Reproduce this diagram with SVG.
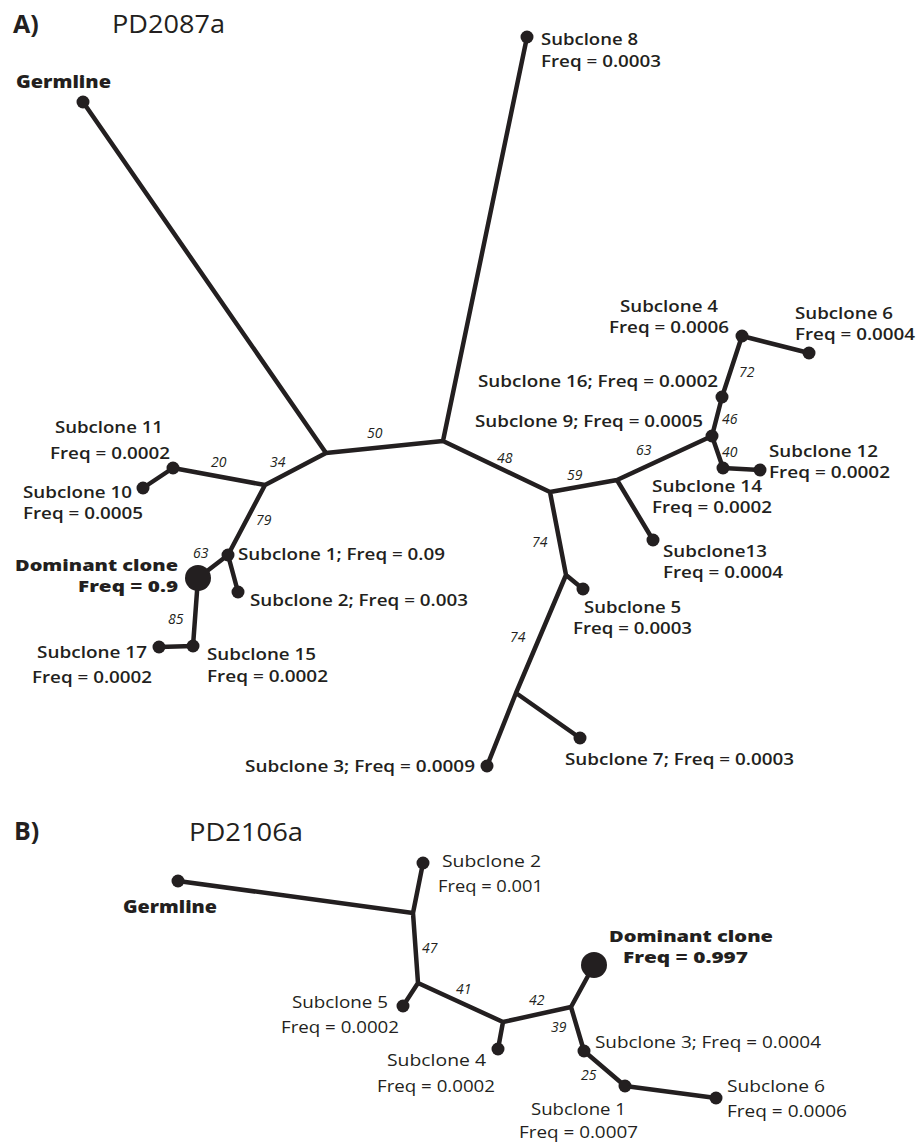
<svg xmlns="http://www.w3.org/2000/svg" width="921" height="1147" viewBox="0 0 921 1147">
<style>
.e{stroke:#231f20;stroke-width:4.5;stroke-linecap:round;stroke-linejoin:round;fill:none}
.n{fill:#231f20}
.t{font-family:"Open Sans","Liberation Sans",sans-serif;font-size:17px;font-weight:600;fill:#231f20}
.r{font-family:"Open Sans","Liberation Sans",sans-serif;font-size:17px;font-weight:400;fill:#231f20}
.b{font-family:"Open Sans","Liberation Sans",sans-serif;font-size:18px;font-weight:800;fill:#231f20}
.d{font-family:"Open Sans","Liberation Sans",sans-serif;font-size:16.5px;font-weight:800;fill:#231f20}
.h{font-family:"Open Sans","Liberation Sans",sans-serif;font-size:25px;font-weight:700;fill:#231f20}
.p{font-family:"Open Sans","Liberation Sans",sans-serif;font-size:25px;font-weight:400;fill:#231f20}
.l{font-family:"Open Sans","Liberation Sans",sans-serif;font-size:14px;font-style:italic;fill:#231f20}
</style>
<rect width="921" height="1147" fill="#fff"/>
<g id="connectors">
<path class="e" d="M83,102 L326,453 L443,441 L527,37 M443,441 L550,492 M326,453 L265,485 L173,468 L143,488 M265,485 L228,555 L198,578 L193,646 L159,647 M228,555 L238,592 M550,492 L617,480 L712,436 L722,397 L742,336 L809,353 M712,436 L723,468 L760,470 M617,480 L653,540 M550,492 L566,575 L583,589 M566,575 L516,693 L487,766 M516,693 L580,738"/>
<path class="e" d="M178,881 L413,913 L423,863 M413,913 L418,983 L403,1006 M418,983 L503,1022 L498,1049 M503,1022 L571,1007 L594,965 M571,1007 L584,1051 L625,1086 L716,1098"/>
</g>
<g id="edge-labels">
<text class="l" x="367" y="438">50</text>
<text class="l" x="270" y="467">34</text>
<text class="l" x="211" y="467">20</text>
<text class="l" x="256" y="525">79</text>
<text class="l" x="193" y="558">63</text>
<text class="l" x="168" y="624">85</text>
<text class="l" x="497" y="463">48</text>
<text class="l" x="567" y="480">59</text>
<text class="l" x="636" y="455">63</text>
<text class="l" x="722" y="457">40</text>
<text class="l" x="722" y="424">46</text>
<text class="l" x="739" y="377">72</text>
<text class="l" x="532" y="547">74</text>
<text class="l" x="510" y="642">74</text>
<text class="l" x="422" y="953">47</text>
<text class="l" x="456" y="994">41</text>
<text class="l" x="529" y="1005">42</text>
<text class="l" x="551" y="1032">39</text>
<text class="l" x="581" y="1080">25</text>
</g>
<g id="titles">
<text class="h" x="13" y="33">A)</text>
<text class="p" x="112" y="33" textLength="113" lengthAdjust="spacingAndGlyphs">PD2087a</text>
<text class="h" x="14" y="840">B)</text>
<text class="p" x="189" y="841" textLength="114" lengthAdjust="spacingAndGlyphs">PD2106a</text>
</g>
<g id="A-germline"><circle class="n" cx="83" cy="102" r="6.5"/><text class="b" x="16" y="88" textLength="95" lengthAdjust="spacingAndGlyphs">Germline</text></g>
<g id="A-subclone8"><circle class="n" cx="527" cy="37" r="6.5"/><text class="t" x="541" y="45" textLength="97" lengthAdjust="spacingAndGlyphs">Subclone 8</text><text class="t" x="541" y="67" textLength="120" lengthAdjust="spacingAndGlyphs">Freq = 0.0003</text></g>
<g id="A-subclone11"><circle class="n" cx="173" cy="468" r="6.5"/><text class="t" x="55" y="433" textLength="108" lengthAdjust="spacingAndGlyphs">Subclone 11</text><text class="t" x="50" y="459" textLength="120" lengthAdjust="spacingAndGlyphs">Freq = 0.0002</text></g>
<g id="A-subclone10"><circle class="n" cx="143" cy="488" r="6.5"/><text class="t" x="23" y="498" textLength="109" lengthAdjust="spacingAndGlyphs">Subclone 10</text><text class="t" x="23" y="519" textLength="120" lengthAdjust="spacingAndGlyphs">Freq = 0.0005</text></g>
<g id="A-subclone1"><circle class="n" cx="228" cy="555" r="6.5"/><text class="t" x="238" y="560" textLength="207" lengthAdjust="spacingAndGlyphs">Subclone 1; Freq = 0.09</text></g>
<g id="A-dominant"><circle class="n" cx="198" cy="578" r="13"/><text class="d" x="178" y="571" text-anchor="end" textLength="163" lengthAdjust="spacingAndGlyphs">Dominant clone</text><text class="d" x="178" y="592" text-anchor="end" textLength="100" lengthAdjust="spacingAndGlyphs">Freq = 0.9</text></g>
<g id="A-subclone2"><circle class="n" cx="238" cy="592" r="6.5"/><text class="t" x="250" y="606" textLength="218" lengthAdjust="spacingAndGlyphs">Subclone 2; Freq = 0.003</text></g>
<g id="A-subclone15"><circle class="n" cx="193" cy="646" r="6.5"/><text class="t" x="207" y="660" textLength="109" lengthAdjust="spacingAndGlyphs">Subclone 15</text><text class="t" x="207" y="682" textLength="121" lengthAdjust="spacingAndGlyphs">Freq = 0.0002</text></g>
<g id="A-subclone17"><circle class="n" cx="159" cy="647" r="6.5"/><text class="t" x="37" y="658" textLength="110" lengthAdjust="spacingAndGlyphs">Subclone 17</text><text class="t" x="32" y="683" textLength="120" lengthAdjust="spacingAndGlyphs">Freq = 0.0002</text></g>
<g id="A-subclone4"><circle class="n" cx="742" cy="336" r="6.5"/><text class="t" x="620" y="312" textLength="98" lengthAdjust="spacingAndGlyphs">Subclone 4</text><text class="t" x="609" y="333" textLength="120" lengthAdjust="spacingAndGlyphs">Freq = 0.0006</text></g>
<g id="A-subclone6"><circle class="n" cx="809" cy="353" r="6.5"/><text class="t" x="795" y="319" textLength="98" lengthAdjust="spacingAndGlyphs">Subclone 6</text><text class="t" x="795" y="340" textLength="120" lengthAdjust="spacingAndGlyphs">Freq = 0.0004</text></g>
<g id="A-subclone16"><circle class="n" cx="722" cy="397" r="6.5"/><text class="t" x="478" y="387" textLength="240" lengthAdjust="spacingAndGlyphs">Subclone 16; Freq = 0.0002</text></g>
<g id="A-subclone9"><circle class="n" cx="712" cy="436" r="6.5"/><text class="t" x="475" y="427" textLength="228" lengthAdjust="spacingAndGlyphs">Subclone 9; Freq = 0.0005</text></g>
<g id="A-subclone12"><circle class="n" cx="760" cy="470" r="6.5"/><text class="t" x="769" y="457" textLength="109" lengthAdjust="spacingAndGlyphs">Subclone 12</text><text class="t" x="769" y="478" textLength="121" lengthAdjust="spacingAndGlyphs">Freq = 0.0002</text></g>
<g id="A-subclone14"><circle class="n" cx="723" cy="468" r="6.5"/><text class="t" x="652" y="492" textLength="110" lengthAdjust="spacingAndGlyphs">Subclone 14</text><text class="t" x="652" y="513" textLength="120" lengthAdjust="spacingAndGlyphs">Freq = 0.0002</text></g>
<g id="A-subclone13"><circle class="n" cx="653" cy="540" r="6.5"/><text class="t" x="663" y="557" textLength="104" lengthAdjust="spacingAndGlyphs">Subclone13</text><text class="t" x="663" y="578" textLength="120" lengthAdjust="spacingAndGlyphs">Freq = 0.0004</text></g>
<g id="A-subclone5"><circle class="n" cx="583" cy="589" r="6.5"/><text class="t" x="584" y="613" textLength="97" lengthAdjust="spacingAndGlyphs">Subclone 5</text><text class="t" x="573" y="634" textLength="119" lengthAdjust="spacingAndGlyphs">Freq = 0.0003</text></g>
<g id="A-subclone7"><circle class="n" cx="580" cy="738" r="6.5"/><text class="t" x="565" y="765" textLength="229" lengthAdjust="spacingAndGlyphs">Subclone 7; Freq = 0.0003</text></g>
<g id="A-subclone3"><circle class="n" cx="487" cy="766" r="6.5"/><text class="t" x="245" y="772" textLength="230" lengthAdjust="spacingAndGlyphs">Subclone 3; Freq = 0.0009</text></g>
<g id="B-germline"><circle class="n" cx="178" cy="881" r="6.5"/><text class="b" x="123" y="913" textLength="94" lengthAdjust="spacingAndGlyphs">Germline</text></g>
<g id="B-subclone2"><circle class="n" cx="423" cy="863" r="6.5"/><text class="r" x="442" y="867" textLength="99" lengthAdjust="spacingAndGlyphs">Subclone 2</text><text class="r" x="438" y="892" textLength="105" lengthAdjust="spacingAndGlyphs">Freq = 0.001</text></g>
<g id="B-subclone5"><circle class="n" cx="403" cy="1006" r="6.5"/><text class="r" x="292" y="1008" textLength="96" lengthAdjust="spacingAndGlyphs">Subclone 5</text><text class="r" x="281" y="1033" textLength="118" lengthAdjust="spacingAndGlyphs">Freq = 0.0002</text></g>
<g id="B-subclone4"><circle class="n" cx="498" cy="1049" r="6.5"/><text class="r" x="387" y="1066" textLength="99" lengthAdjust="spacingAndGlyphs">Subclone 4</text><text class="r" x="377" y="1092" textLength="118" lengthAdjust="spacingAndGlyphs">Freq = 0.0002</text></g>
<g id="B-dominant"><circle class="n" cx="594" cy="965" r="13"/><text class="d" x="609" y="942" textLength="164" lengthAdjust="spacingAndGlyphs">Dominant clone</text><text class="d" x="623" y="963" textLength="125" lengthAdjust="spacingAndGlyphs">Freq = 0.997</text></g>
<g id="B-subclone3"><circle class="n" cx="584" cy="1051" r="6.5"/><text class="r" x="595" y="1048" textLength="226" lengthAdjust="spacingAndGlyphs">Subclone 3; Freq = 0.0004</text></g>
<g id="B-subclone1"><circle class="n" cx="625" cy="1086" r="6.5"/><text class="r" x="531" y="1115" textLength="95" lengthAdjust="spacingAndGlyphs">Subclone 1</text><text class="r" x="519" y="1138" textLength="119" lengthAdjust="spacingAndGlyphs">Freq = 0.0007</text></g>
<g id="B-subclone6"><circle class="n" cx="716" cy="1098" r="6.5"/><text class="r" x="727" y="1092" textLength="98" lengthAdjust="spacingAndGlyphs">Subclone 6</text><text class="r" x="727" y="1117" textLength="120" lengthAdjust="spacingAndGlyphs">Freq = 0.0006</text></g>
</svg>
